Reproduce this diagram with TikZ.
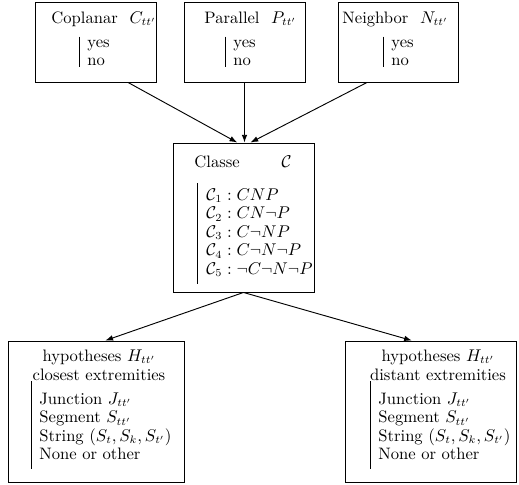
\documentclass[tikz,border=0pt]{standalone}
\usepackage{amsmath,amssymb}
\usetikzlibrary{arrows.meta}

\begin{document}
\begin{tikzpicture}[x=0.645pt,y=-0.645pt,line width=0.6pt,>={Latex[length=5pt,width=3.6pt]},
    font=\fontsize{10.7}{12}\selectfont,
    box/.style 2 args={draw,inner sep=0pt,minimum width=#1*0.645pt,minimum height=#2*0.645pt},
    txt/.style={inner sep=0pt,anchor=base west},
    ttl/.style={inner sep=0pt,anchor=base},
    bar/.style={line width=0.7pt}]
      \useasboundingbox (0,0) rectangle (519,485);
      % criteria boxes
      \foreach \n/\x/\w/\tx/\bx/\t/\s in {cop/95.5/121/51/79/Coplanar/C,par/244.5/121/204/225/Parallel/P,nei/398/120/342/383/Neighbor/N}
      {
      \node[box={\w}{80}] (\n) at (\x,42) {};
      \node[txt] (\n-t) at (\tx,23) {\t\hspace{7.5pt}$\s_{tt'}$};
      \node[txt] (\n-l) at (\bx+8,47) {\begin{tabular}[t]{@{}l@{}}yes\\no\end{tabular}};
      \draw[bar,shorten <=2pt,shorten >=3pt] ([xshift=-5pt]\n-l.north west) -- ([xshift=-5pt]\n-l.south west);
      }
      % classes
      \node[box={141}{149}] (cls) at (243.5,217.5) {};
      \node[txt] (cls-t) at (194,167) {Classe\hspace{27pt}$\mathcal{C}$};
      \node[txt] (cls-l) at (206,200) {\begin{tabular}[t]{@{}l@{}}
          $\mathcal{C}_1 : CNP$\\
          $\mathcal{C}_2 : CN\neg P$\\
          $\mathcal{C}_3 : C\neg NP$\\
          $\mathcal{C}_4 : C\neg N\neg P$\\
          $\mathcal{C}_5 : \neg C\neg N\neg P$\end{tabular}};
      \draw[bar,shorten <=-2pt,shorten >=-2pt] ([xshift=-5.5pt]cls-l.north west) -- ([xshift=-5.5pt]cls-l.south west);
      % hypotheses
      \foreach \n/\x/\w/\tx/\bx/\e in {hypc/96/176/99/31/closest,hypd/430.5/171/438/370/distant}
      {
      \node[box={\w}{141}] (\n) at (\x,411.5) {};
      \node[ttl] (\n-t) at (\tx,361) {hypotheses $H_{tt'}$};
      \node[ttl] (\n-e) at (\tx,380) {\e{} extremities};
      \node[txt] (\n-l) at (\bx+8,404) {\begin{tabular}[t]{@{}l@{}}
          Junction $J_{tt'}$\\
          Segment $S_{tt'}$\\
          String $(S_t,S_k,S_{t'})$\\
          None or other\end{tabular}};
      \draw[bar,shorten <=-6pt,shorten >=-2pt] ([xshift=-5pt]\n-l.north west) -- ([xshift=-5pt]\n-l.south west);
      }
      \draw[->] ([xshift=21pt]cop.south) -- ([xshift=-4pt]cls.north);
      \draw[->] (par.south) -- (par.south |- cls.north);
      \draw[->] ([xshift=-20pt]nei.south) -- ([xshift=4.5pt]cls.north);
      \draw[->] (cls.south) -- ([xshift=6pt]hypc.north);
      \draw[->] (cls.south) -- ([xshift=-12pt]hypd.north);
    \end{tikzpicture}
\end{document}
